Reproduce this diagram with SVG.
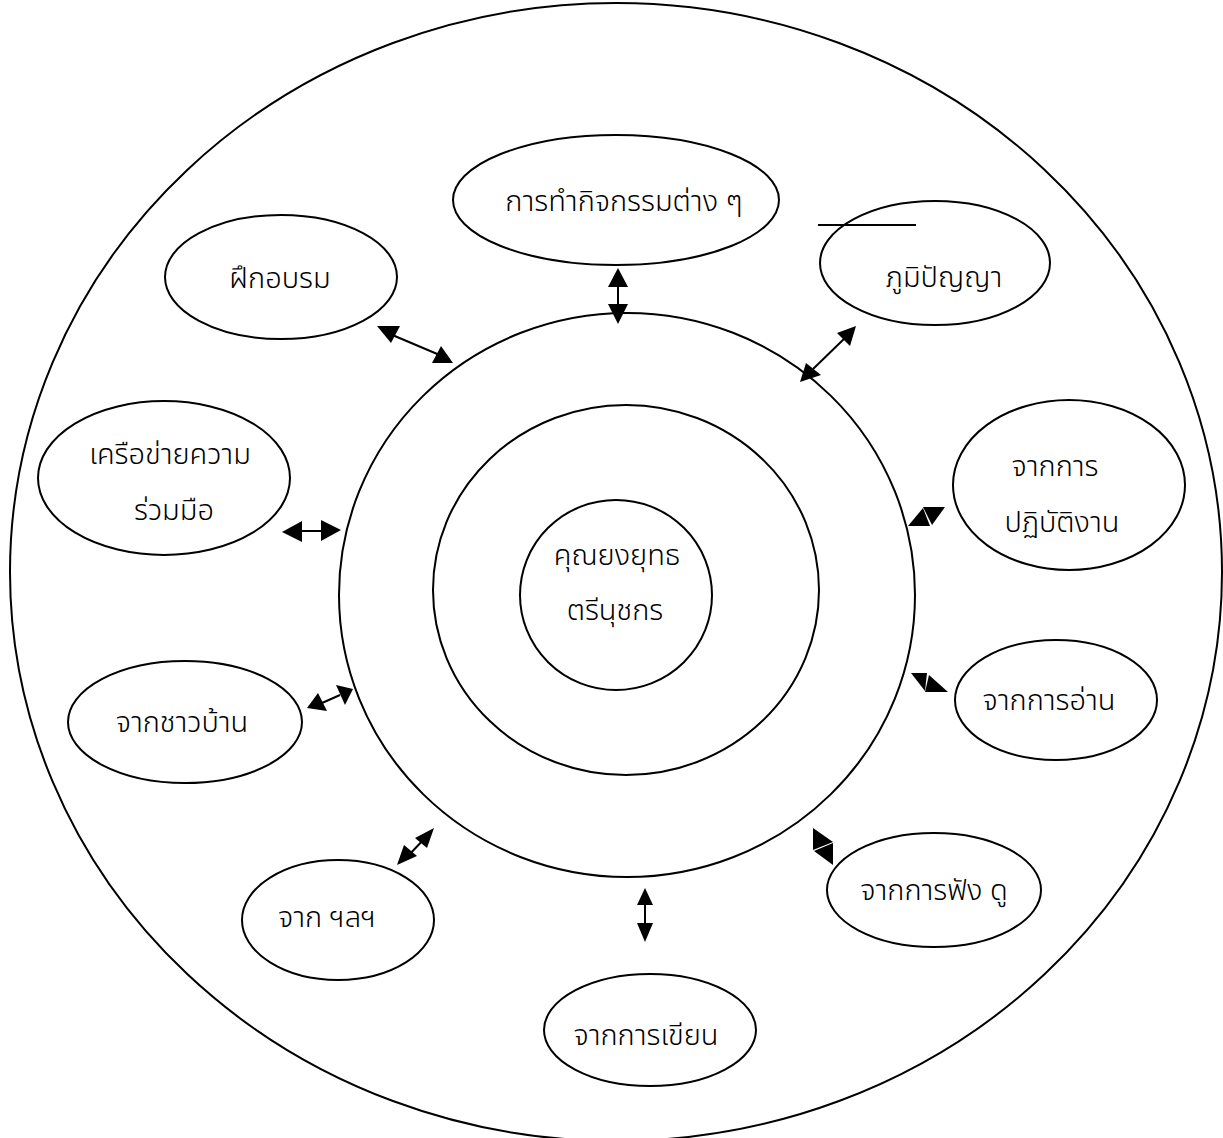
<svg xmlns="http://www.w3.org/2000/svg" width="1223" height="1138" viewBox="0 0 1223 1138">
  <style>
    .ring { fill: none; stroke: #000; stroke-width: 2; }
    .node { fill: #fff; stroke: #000; stroke-width: 2; }
    .lbl { font-family: "Noto Sans Thai", "Noto Sans", "DejaVu Sans", sans-serif; font-size: 29px; font-weight: 300; fill: #000; text-anchor: middle; }
    .shaft { stroke: #000; stroke-width: 2; fill: none; }
    .head { fill: #000; stroke: none; }
  </style>
  <rect width="1223" height="1138" fill="#fff"/>

  <!-- concentric rings -->
  <g id="rings">
    <ellipse class="ring" cx="616" cy="572" rx="606" ry="569"/>
    <ellipse class="ring" cx="627" cy="595" rx="288" ry="282"/>
    <ellipse class="ring" cx="626" cy="590" rx="193" ry="185"/>
  </g>

  <g id="center">
    <ellipse class="ring" cx="616" cy="595" rx="96" ry="95"/>
    <text class="lbl" x="617" y="565">คุณยงยุทธ</text>
    <text class="lbl" x="615" y="620">ตรีนุชกร</text>
  </g>

  <g id="n-activities">
    <ellipse class="node" cx="616" cy="200" rx="163" ry="65"/>
    <text class="lbl" x="624" y="211">การทำกิจกรรมต่าง ๆ</text>
  </g>
  <g id="n-training">
    <ellipse class="node" cx="281" cy="277" rx="116" ry="62"/>
    <text class="lbl" x="280" y="288">ฝึกอบรม</text>
  </g>
  <g id="n-wisdom">
    <ellipse class="node" cx="935" cy="263" rx="115" ry="62"/>
    <line x1="818" y1="225" x2="916" y2="225" class="shaft"/>
    <text class="lbl" x="944" y="287">ภูมิปัญญา</text>
  </g>
  <g id="n-network">
    <ellipse class="node" cx="164" cy="478" rx="126" ry="77"/>
    <text class="lbl" x="170" y="464">เครือข่ายความ</text>
    <text class="lbl" x="174" y="520">ร่วมมือ</text>
  </g>
  <g id="n-practice">
    <ellipse class="node" cx="1069" cy="485" rx="116" ry="85"/>
    <text class="lbl" x="1055" y="476">จากการ</text>
    <text class="lbl" x="1062" y="532">ปฏิบัติงาน</text>
  </g>
  <g id="n-reading">
    <ellipse class="node" cx="1056" cy="700" rx="101" ry="60"/>
    <text class="lbl" x="1049" y="710">จากการอ่าน</text>
  </g>
  <g id="n-villagers">
    <ellipse class="node" cx="185" cy="722" rx="117" ry="61"/>
    <text class="lbl" x="182" y="732">จากชาวบ้าน</text>
  </g>
  <g id="n-listening">
    <ellipse class="node" cx="934" cy="890" rx="107" ry="57"/>
    <text class="lbl" x="934" y="900">จากการฟัง ดู</text>
  </g>
  <g id="n-etc">
    <ellipse class="node" cx="338" cy="920" rx="96" ry="60"/>
    <text class="lbl" x="327" y="927">จาก ฯลฯ</text>
  </g>
  <g id="n-writing">
    <ellipse class="node" cx="650" cy="1030" rx="106" ry="56"/>
    <text class="lbl" x="646" y="1045">จากการเขียน</text>
  </g>

  <!-- two-way connectors -->
  <g id="connectors">
    <line class="shaft" x1="390" y1="334" x2="442" y2="356"/>
    <polygon class="head" points="377,326 400,326 391,343"/>
    <polygon class="head" points="432,363 453,363 441,346"/>

    <line class="shaft" x1="618" y1="285" x2="618" y2="306"/>
    <polygon class="head" points="618,268 608,287 628,287"/>
    <polygon class="head" points="608,304 628,304 618,324"/>

    <line class="shaft" x1="813" y1="369" x2="845" y2="338"/>
    <polygon class="head" points="837,333 856,326 850,346"/>
    <polygon class="head" points="800,382 806,363 821,375"/>

    <line class="shaft" x1="300" y1="531" x2="325" y2="531"/>
    <polygon class="head" points="282,532 302,521 302,542"/>
    <polygon class="head" points="341,530 321,520 321,541"/>

    <polygon class="head" points="908,526 923,508 930,526"/>
    <polygon class="head" points="923,507 945,507 932,525"/>

    <polygon class="head" points="911,673 927,673 925,691"/>
    <polygon class="head" points="929,675 948,692 925,692"/>

    <polygon class="head" points="813,828 813,850 833,842"/>
    <polygon class="head" points="814,851 833,843 833,865"/>

    <line class="shaft" x1="645" y1="903" x2="645" y2="925"/>
    <polygon class="head" points="645,888 637,905 653,905"/>
    <polygon class="head" points="637,923 653,923 645,942"/>

    <line class="shaft" x1="407" y1="857" x2="427" y2="836"/>
    <polygon class="head" points="434,828 427,848 415,838"/>
    <polygon class="head" points="397,865 404,845 417,856"/>

    <line class="shaft" x1="322" y1="703" x2="340" y2="695"/>
    <polygon class="head" points="307,708 318,693 327,711"/>
    <polygon class="head" points="353,689 336,685 345,705"/>
  </g>
</svg>
